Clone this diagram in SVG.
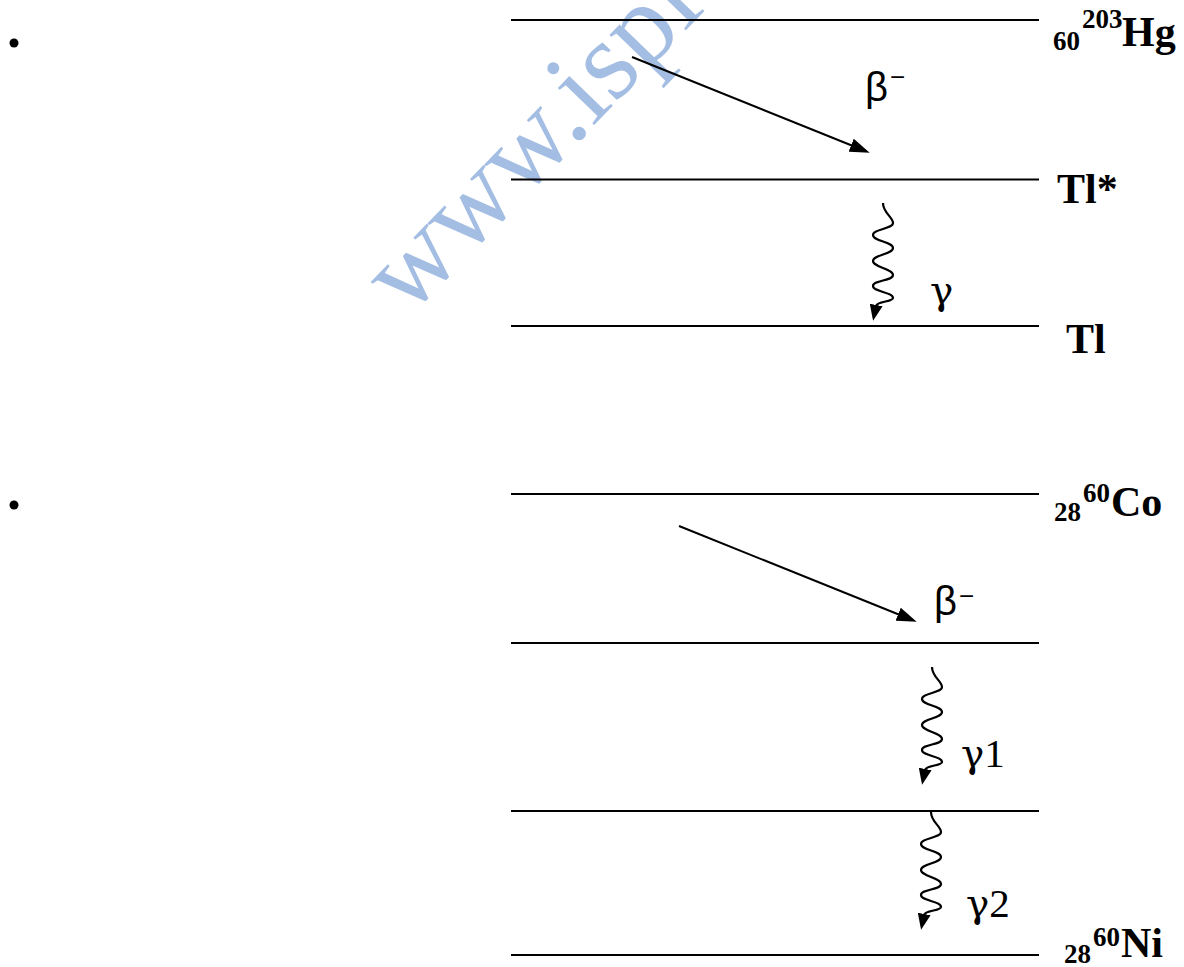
<svg xmlns="http://www.w3.org/2000/svg" xmlns:xlink="http://www.w3.org/1999/xlink" width="1184" height="967" viewBox="0 0 1184 967">
<style>
.lvl{stroke:#000;stroke-width:2;fill:none}
.arr{stroke:#000;stroke-width:2;fill:none}
.wav{stroke:#000;stroke-width:2.2;fill:none}
.lbl{font-family:"Liberation Serif","Times New Roman",serif;font-weight:bold;font-size:42px;fill:#000}
.sm{font-size:27px}
.beta{font-family:"Liberation Sans",Arial,sans-serif;font-size:40px;fill:#000}
.bm{font-size:26px}
.gam{font-family:"Liberation Serif","Times New Roman",serif;font-size:41px;fill:#000}
.gg{font-family:"DejaVu Serif",serif;font-size:39px}
.wm{font-family:"Liberation Serif","Times New Roman",serif;font-size:113px;fill:#a4bee3}
</style>
<defs>
<marker id="ah" markerUnits="userSpaceOnUse" markerWidth="20" markerHeight="14" viewBox="0 0 20 14" refX="2" refY="7" orient="auto">
<path d="M0,0 L20,7 L0,14 z" fill="#000"/>
</marker>
<marker id="wh" markerUnits="userSpaceOnUse" markerWidth="16" markerHeight="13" viewBox="0 0 16 13" refX="1" refY="6.5" orient="auto">
<path d="M0,0 L16,6.5 L0,13 z" fill="#000"/>
</marker>
<path id="wave" class="wav" marker-end="url(#wh)" d="M0,0 C0,10 10,14 10,20 C10,26 -10,26 -10,32 C-10,38 10,39 10,45 C10,51 -10,52 -10,58 C-10,64 10,66 10,72 C10,78 -10,77 -10,83 C-10,89 10,89 10,95 C10,99 -6,98 -7,103"/>
</defs>

<g id="watermark">
<text class="wm" transform="translate(408,318) rotate(-46)">www.isple</text>
</g>

<g id="bullets">
<circle cx="14" cy="43" r="4.5" fill="#000"/>
<circle cx="14" cy="505" r="4.5" fill="#000"/>
</g>

<g id="levels">
<line id="lvl-hg" class="lvl" x1="511" y1="20" x2="1039" y2="20"/>
<line id="lvl-tlstar" class="lvl" x1="511" y1="179.5" x2="1039" y2="179.5"/>
<line id="lvl-tl" class="lvl" x1="511" y1="326" x2="1039" y2="326"/>
<line id="lvl-co" class="lvl" x1="511" y1="494" x2="1039" y2="494"/>
<line id="lvl-mid1" class="lvl" x1="511" y1="643" x2="1039" y2="643"/>
<line id="lvl-mid2" class="lvl" x1="511" y1="811" x2="1039" y2="811"/>
<line id="lvl-ni" class="lvl" x1="511" y1="955" x2="1039" y2="955"/>
</g>

<g id="connectors">
<line class="arr" marker-end="url(#ah)" x1="632" y1="57" x2="853" y2="146"/>
<line class="arr" marker-end="url(#ah)" x1="679" y1="526" x2="900" y2="615"/>
<use xlink:href="#wave" href="#wave" x="883" y="203"/>
<use xlink:href="#wave" href="#wave" x="932" y="667"/>
<use xlink:href="#wave" href="#wave" x="931" y="812"/>
</g>

<g id="label-hg">
<text class="lbl"><tspan class="sm" x="1053" y="50">60</tspan><tspan class="sm" x="1082" y="28">203</tspan><tspan x="1122" y="46">Hg</tspan></text>
</g>
<g id="label-tlstar"><text class="lbl" x="1057" y="203">Tl*</text></g>
<g id="label-tl"><text class="lbl" x="1066" y="353">Tl</text></g>
<g id="label-co">
<text class="lbl"><tspan class="sm" x="1054" y="521">28</tspan><tspan class="sm" x="1083" y="502">60</tspan><tspan x="1111" y="516">Co</tspan></text>
</g>
<g id="label-ni">
<text class="lbl"><tspan class="sm" x="1064" y="963">28</tspan><tspan class="sm" x="1093" y="946">60</tspan><tspan x="1121" y="957">Ni</tspan></text>
</g>

<g id="label-beta1"><text class="beta" x="865" y="101">β<tspan class="bm" x="890" y="86">−</tspan></text></g>
<g id="label-beta2"><text class="beta" x="934" y="615">β<tspan class="bm" x="959" y="605">−</tspan></text></g>
<g id="label-gamma"><text class="gam" x="930" y="304"><tspan class="gg">γ</tspan></text></g>
<g id="label-gamma1"><text class="gam" x="961" y="767"><tspan class="gg">γ</tspan>1</text></g>
<g id="label-gamma2"><text class="gam" x="966" y="917"><tspan class="gg">γ</tspan>2</text></g>
</svg>
